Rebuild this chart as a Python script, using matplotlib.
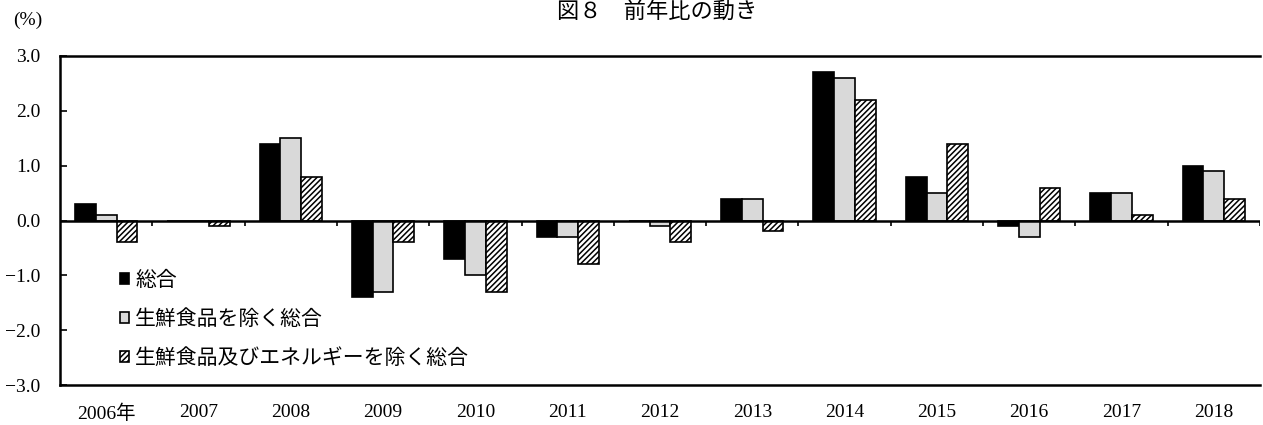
import numpy as np
import matplotlib
matplotlib.use("Agg")
import matplotlib.pyplot as plt

plt.rcParams['font.family'] = ['Liberation Serif', 'Noto Sans CJK JP', 'DejaVu Sans']
plt.rcParams['hatch.linewidth'] = 1.1

years = ["2006年", "2007", "2008", "2009", "2010", "2011", "2012",
         "2013", "2014", "2015", "2016", "2017", "2018"]
series_names = ["総合", "生鮮食品を除く総合", "生鮮食品及びエネルギーを除く総合"]
total = [0.3, 0.0, 1.4, -1.4, -0.7, -0.3, 0.0, 0.4, 2.7, 0.8, -0.1, 0.5, 1.0]
core = [0.1, 0.0, 1.5, -1.3, -1.0, -0.3, -0.1, 0.4, 2.6, 0.5, -0.3, 0.5, 0.9]
core_core = [-0.4, -0.1, 0.8, -0.4, -1.3, -0.8, -0.4, -0.2, 2.2, 1.4, 0.6, 0.1, 0.4]
yticks = [-3.0, -2.0, -1.0, 0.0, 1.0, 2.0, 3.0]

fig = plt.figure(figsize=(12.63, 4.25), dpi=100)
ax = fig.add_axes([60/1263, 1-385/425, 1200/1263, 329/425])

x = np.arange(len(years))
w = 0.225
styles = [dict(color="black", edgecolor="black"),
          dict(color="#d9d9d9", edgecolor="black"),
          dict(color="white", edgecolor="black", hatch="//////")]
data = [total, core, core_core]
for i, (vals, st, name) in enumerate(zip(data, styles, series_names)):
    ax.bar(x + (i - 1) * w, vals, w, linewidth=1.2, label=name, **st)

ax.set_xlim(-0.5, len(years) - 0.5)
ax.set_ylim(-3, 3)
ax.set_yticks(yticks)
ax.set_yticklabels([f"{v:.1f}".replace("-", "\u2212") for v in yticks], fontsize=14)
ax.tick_params(axis='y', direction='in', length=5, width=1.2, pad=14)
ax.set_xticks(x)
ax.set_xticklabels(years, fontsize=14)
ax.tick_params(axis='x', length=0, pad=14)

for s in ['left', 'top', 'bottom']:
    ax.spines[s].set_linewidth(1.8)
ax.spines['right'].set_visible(False)

ax.axhline(0, color="black", linewidth=1.8, zorder=3)
ax.vlines(np.arange(len(years) + 1) - 0.5, -0.1, 0, color="black", linewidth=1.2, zorder=3)

leg = ax.legend(loc='lower left', bbox_to_anchor=(0.05, 0.05), frameon=False,
                fontsize=15, handlelength=0.42, handleheight=0.42, handletextpad=0.3,
                labelspacing=0.92, borderaxespad=0, borderpad=0)

fig.text(13/1263, 1-20/425, "(%)", fontsize=14, va='center', ha='left')
fig.text(0.52, 1-12/425, "図８　前年比の動き", fontsize=16, va='center', ha='center')

fig.savefig("out.png", dpi=100)
